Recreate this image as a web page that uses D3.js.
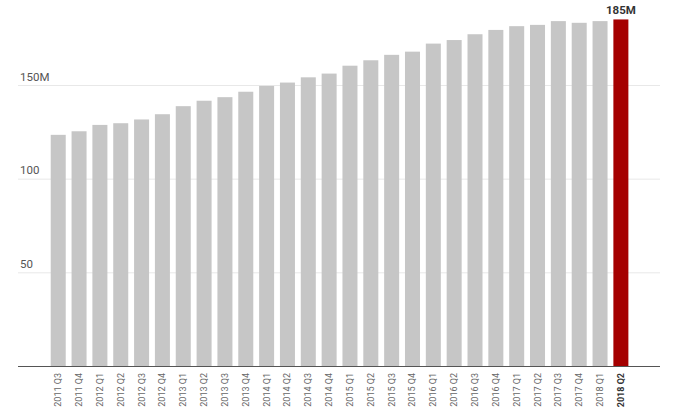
<!DOCTYPE html>
<html>
<head>
<meta charset="utf-8">
<script src="https://cdn.jsdelivr.net/npm/d3@7"></script>
<style>
  body { margin: 0; background: #fff; font-family: Roboto, sans-serif; }
</style>
</head>
<body>
<script>
const quarters = ['2011 Q3', '2011 Q4',
    '2012 Q1', '2012 Q2', '2012 Q3', '2012 Q4',
    '2013 Q1', '2013 Q2', '2013 Q3', '2013 Q4',
    '2014 Q1', '2014 Q2', '2014 Q3', '2014 Q4',
    '2015 Q1', '2015 Q2', '2015 Q3', '2015 Q4',
    '2016 Q1', '2016 Q2', '2016 Q3', '2016 Q4',
    '2017 Q1', '2017 Q2', '2017 Q3', '2017 Q4',
    '2018 Q1', '2018 Q2']
const users = [123.4, 125.3, 128.7, 129.6, 131.6, 134.4,
    138.7, 141.6, 143.5, 146.4,
    149.5, 151.3, 154.1, 156.1,
    160.3, 163.2, 166.1, 167.8,
    172.1, 174.0, 177.1, 179.4,
    181.4, 182.1, 184.1, 183.2,
    184.1, 185]
const yTicks = [50, 100, 150]
const tickLabels = ['50', '100', '150M']
const highlight = '2018 Q2'

const m = { width: 680, height: 418 }

const svg = d3.select('body').append('svg')
    .attr('width', m.width)
    .attr('height', m.height)

const x = d3.scaleBand()
    .domain(quarters)
    .range([47.8, 631.3])
    .paddingInner(0.28)
    .paddingOuter(0.14)

const y = d3.scaleLinear()
    .domain([0, 150])
    .range([366, 85])

// gridlines + labels
const grid = svg.append('g')
grid.selectAll('line')
    .data(yTicks)
    .enter()
    .append('line')
        .attr('x1', 18)
        .attr('x2', 660)
        .attr('y1', d => y(d) + 0.5)
        .attr('y2', d => y(d) + 0.5)
        .attr('stroke', '#e8e8e8')
        .attr('stroke-width', 1)

grid.selectAll('text')
    .data(yTicks)
    .enter()
    .append('text')
        .attr('x', 20)
        .attr('y', d => y(d) - 4.5)
        .style('font-size', '11.5px')
        .attr('fill', '#555')
        .text((d, i) => tickLabels[i])

// bars
svg.append('g').selectAll('rect')
    .data(quarters)
    .enter()
    .append('rect')
        .attr('x', d => x(d))
        .attr('width', x.bandwidth())
        .attr('y', (d, i) => y(users[i]))
        .attr('height', (d, i) => y(0) - y(users[i]))
        .attr('fill', d => d == highlight ? '#a50000' : '#c6c6c6')

// value label on last bar
const last = quarters.length - 1
svg.append('text')
    .attr('x', x(quarters[last]) + x.bandwidth() / 2)
    .attr('y', y(users[last]) - 5.5)
    .attr('text-anchor', 'middle')
    .style('font-size', '11.5px')
    .style('font-weight', 'bold')
    .attr('fill', '#333')
    .text(Math.round(users[last]) + 'M')

// baseline
svg.append('line')
    .attr('x1', 18)
    .attr('x2', 660)
    .attr('y1', y(0) + 0.5)
    .attr('y2', y(0) + 0.5)
    .attr('stroke', '#555')
    .attr('stroke-width', 1)

// x labels, rotated
svg.append('g').selectAll('text')
    .data(quarters)
    .enter()
    .append('text')
        .attr('transform', d => 'translate(' + (x(d) + x.bandwidth() / 2 + 3) + ',' + 373 + ') rotate(-90)')
        .attr('text-anchor', 'end')
        .style('font-size', '9px')
        .style('font-weight', d => d == highlight ? 'bold' : 'normal')
        .attr('fill', d => d == highlight ? '#333' : '#666')
        .text(d => d)
</script>
</body>
</html>
